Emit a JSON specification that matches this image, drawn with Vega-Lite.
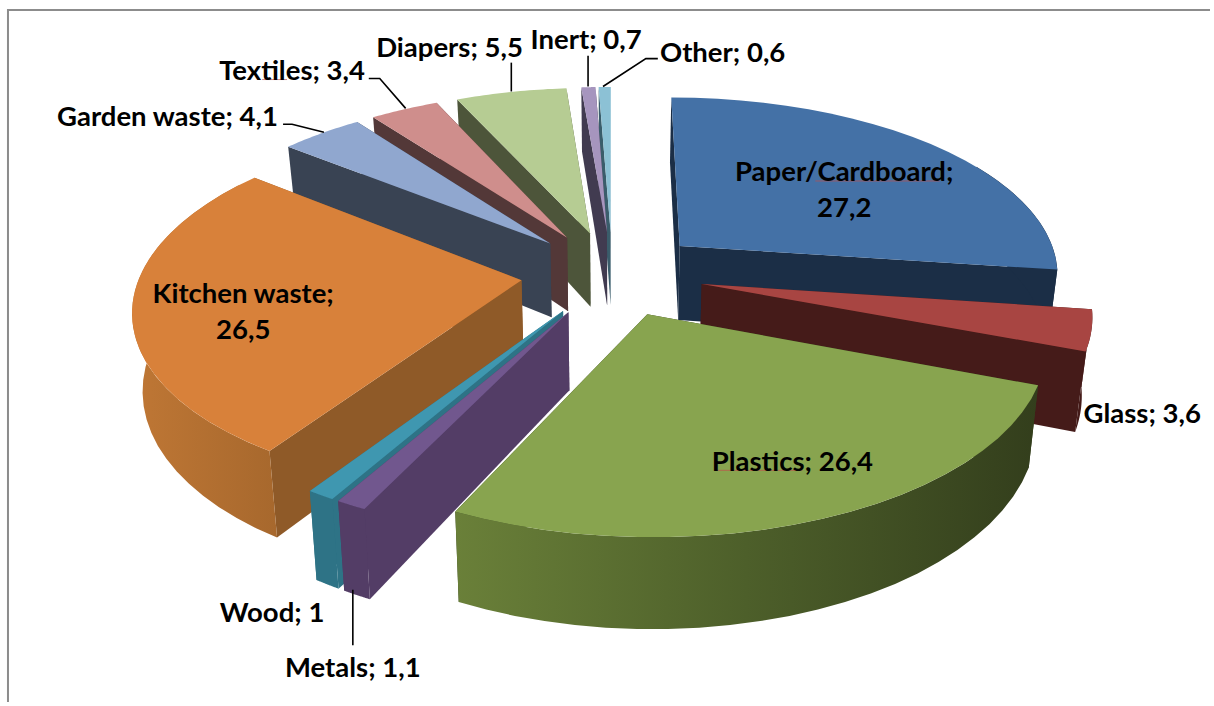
{
  "$schema": "https://vega.github.io/schema/vega-lite/v6.json",
  "width": 1214,
  "height": 706,
  "padding": 0,
  "autosize": {"type": "fit", "contains": "padding"},
  "background": "white",
  "view": {"stroke": null},
  "config": {"text": {"font": "Lato", "fontWeight": "bold", "fontSize": 27.5}},
  "params": [
    {"name": "centreX", "value": 614.3},
    {"name": "centreY", "value": 275},
    {"name": "radiusX", "value": 382.3},
    {"name": "radiusZ", "value": 178.5},
    {"name": "perspective", "value": 0.145},
    {"name": "explosion", "value": 0.24},
    {"name": "thickness", "value": 76},
    {"name": "taper", "value": 0.022},
    {"name": "steps", "value": 24}
  ],
  "datasets": {
    "slices": [
      {"slice": "Other", "value": 0.6, "clockwise": 11},
      {"slice": "Inert", "value": 0.7, "clockwise": 10},
      {"slice": "Diapers", "value": 5.5, "clockwise": 9},
      {"slice": "Textiles", "value": 3.4, "clockwise": 8},
      {"slice": "Garden waste", "value": 4.1, "clockwise": 7},
      {"slice": "Paper/Cardboard", "value": 27.2, "clockwise": 1},
      {"slice": "Kitchen waste", "value": 26.5, "clockwise": 6},
      {"slice": "Glass", "value": 3.6, "clockwise": 2},
      {"slice": "Wood", "value": 1, "clockwise": 5},
      {"slice": "Metals", "value": 1.1, "clockwise": 4},
      {"slice": "Plastics", "value": 26.4, "clockwise": 3}
    ],
    "labels": [
      {"slice": "Paper/Cardboard", "x": 847, "y": 174, "wrap": true},
      {"slice": "Kitchen waste", "x": 244, "y": 297, "wrap": true},
      {"slice": "Plastics", "x": 795, "y": 466, "wrap": false},
      {"slice": "Glass", "x": 1146, "y": 417, "wrap": false},
      {"slice": "Garden waste", "x": 168, "y": 119, "wrap": false},
      {"slice": "Textiles", "x": 293, "y": 72, "wrap": false},
      {"slice": "Diapers", "x": 451, "y": 49, "wrap": false},
      {"slice": "Inert", "x": 588, "y": 41, "wrap": false},
      {"slice": "Other", "x": 725, "y": 54, "wrap": false},
      {"slice": "Wood", "x": 273, "y": 617, "wrap": false},
      {"slice": "Metals", "x": 354, "y": 673, "wrap": false}
    ],
    "leaders": [
      {"slice": "Garden waste", "i": 0, "x": 284, "y": 125},
      {"slice": "Garden waste", "i": 1, "x": 293, "y": 125},
      {"slice": "Garden waste", "i": 2, "x": 325, "y": 133},
      {"slice": "Textiles", "i": 0, "x": 370, "y": 79},
      {"slice": "Textiles", "i": 1, "x": 381, "y": 79},
      {"slice": "Textiles", "i": 2, "x": 407, "y": 109},
      {"slice": "Diapers", "i": 0, "x": 513, "y": 63},
      {"slice": "Diapers", "i": 1, "x": 513, "y": 92},
      {"slice": "Inert", "i": 0, "x": 590, "y": 56},
      {"slice": "Inert", "i": 1, "x": 590, "y": 87},
      {"slice": "Other", "i": 0, "x": 660, "y": 59},
      {"slice": "Other", "i": 1, "x": 648, "y": 59},
      {"slice": "Other", "i": 2, "x": 605, "y": 87},
      {"slice": "Metals", "i": 0, "x": 354, "y": 593},
      {"slice": "Metals", "i": 1, "x": 354, "y": 649}
    ],
    "frame": [
      {"i": 0, "x": 8, "y": 706},
      {"i": 1, "x": 8, "y": 10},
      {"i": 2, "x": 1214, "y": 10}
    ],
    "underlines": [
      {"word": "Cardboard", "x": 818, "x2": 943, "y": 182},
      {"word": "Plastics", "x": 717, "x2": 805, "y": 473},
      {"word": "Textiles", "x": 263, "x2": 288, "y": 80}
    ]
  },
  "layer": [
    {
      "data": {"name": "frame"},
      "mark": {"type": "line", "stroke": "#8c8c8c", "strokeWidth": 2},
      "encoding": {
        "x": {"field": "x", "type": "quantitative", "scale": {"domain": [0, 1214]}, "axis": null},
        "y": {"field": "y", "type": "quantitative", "scale": {"domain": [706, 0]}, "axis": null},
        "order": {"field": "i"}
      }
    },
    {
      "data": {"name": "slices"},
      "transform": [
        {"joinaggregate": [{"op": "sum", "field": "value", "as": "total"}]},
        {"window": [{"op": "sum", "field": "value", "as": "upTo"}], "sort": [{"field": "clockwise"}]},
        {"calculate": "(datum.upTo - datum.value) / datum.total * 2 * PI", "as": "th0"},
        {"calculate": "datum.upTo / datum.total * 2 * PI", "as": "th1"},
        {"calculate": "(datum.th0 + datum.th1) / 2", "as": "thm"},
        {"calculate": "max(datum.th0, PI * 60 / 180)", "as": "a0"},
        {"calculate": "min(datum.th1, PI * 305 / 180)", "as": "a1"},
        {"calculate": "datum.th0 >= PI ? ['cut1', 'cut0', 'wall', 'top'] : ['cut0', 'cut1', 'wall', 'top']", "as": "face"},
        {"flatten": ["face"]},
        {"filter": "datum.face != 'wall' || datum.a1 > datum.a0"},
        {"calculate": "sequence(0, 2 * steps + 2)", "as": "v"},
        {"flatten": ["v"]},
        {"filter": "datum.face == 'top' ? datum.v <= steps + 1 : datum.face == 'wall' ? datum.v <= 2 * steps + 1 : datum.v < 4"},
        {"calculate": "datum.face == 'top' ? (datum.v == 0 ? 0 : 1) : datum.face == 'wall' ? 1 : (datum.v == 1 || datum.v == 2 ? 1 : 0)", "as": "r"},
        {"calculate": "datum.face == 'top' ? 0 : datum.face == 'wall' ? (datum.v > steps ? 1 : 0) : (datum.v >= 2 ? 1 : 0)", "as": "h"},
        {"calculate": "datum.face == 'top' ? datum.th0 + (datum.th1 - datum.th0) * (datum.v - 1) / steps : datum.face == 'wall' ? datum.a0 + (datum.a1 - datum.a0) * (datum.v <= steps ? datum.v : 2 * steps + 1 - datum.v) / steps : datum.face == 'cut0' ? datum.th0 : datum.th1", "as": "theta"},
        {"calculate": "explosion * sin(datum.thm) + datum.r * sin(datum.theta)", "as": "wx"},
        {"calculate": "explosion * cos(datum.thm) + datum.r * cos(datum.theta)", "as": "wz"},
        {"calculate": "1 / (1 + perspective * datum.wz)", "as": "s"},
        {"calculate": "centreX + radiusX * datum.wx * datum.s * (1 - taper * datum.h)", "as": "px"},
        {"calculate": "centreY + (thickness * datum.h - radiusZ * datum.wz) * datum.s", "as": "py"},
        {"calculate": "datum.slice + '|' + (datum.face == 'top' || datum.face == 'wall' ? datum.face : 'cut')", "as": "surface"},
        {"calculate": "datum.surface == 'Kitchen waste|wall' ? 2 : datum.surface == 'Plastics|wall' ? 4 : datum.surface == 'Plastics|top' ? 5 : (datum.slice == 'Glass' || datum.slice == 'Wood' || datum.slice == 'Metals' || datum.slice == 'Plastics' || datum.surface == 'Kitchen waste|top') ? 3 : 1", "as": "stage"}
      ],
      "encoding": {
        "x": {"field": "px", "type": "quantitative", "scale": {"domain": [0, 1214]}, "axis": null},
        "y": {"field": "py", "type": "quantitative", "scale": {"domain": [706, 0]}, "axis": null},
        "order": {"field": "v"},
        "detail": {"field": "face"}
      },
      "layer": [
        {
          "transform": [{"filter": "datum.stage == 1"}],
          "mark": {"type": "line", "strokeWidth": 0},
          "encoding": {"fill": {"field": "surface", "type": "nominal", "legend": null, "scale": {"name": "surfaceColours", "domain": ["Paper/Cardboard|top", "Paper/Cardboard|wall", "Paper/Cardboard|cut", "Glass|top", "Glass|wall", "Glass|cut", "Plastics|top", "Plastics|cut", "Metals|top", "Metals|wall", "Metals|cut", "Wood|top", "Wood|wall", "Wood|cut", "Kitchen waste|top", "Kitchen waste|cut", "Garden waste|top", "Garden waste|cut", "Textiles|top", "Textiles|cut", "Diapers|top", "Diapers|cut", "Inert|top", "Inert|cut", "Other|top", "Other|cut"], "range": ["#4471a6", "#1b2e46", "#1b2e46", "#a84542", "#451b19", "#451b19", "#88a44f", "#333e1c", "#71578e", "#533d66", "#533d66", "#3f97b0", "#2e7386", "#2e7386", "#d8813a", "#8f5a28", "#90a7cf", "#394353", "#cf8e8c", "#533838", "#b6cc93", "#4d553a", "#a695be", "#413b50", "#8cc1d5", "#3a5d6b"]}}}
        },
        {
          "transform": [{"filter": "datum.stage == 2"}],
          "mark": {"type": "line", "strokeWidth": 0, "fill": {"gradient": "linear", "x1": 0, "y1": 0, "x2": 1, "y2": 0, "stops": [{"offset": 0, "color": "#bf7735"}, {"offset": 1, "color": "#a7682d"}]}}
        },
        {
          "transform": [{"filter": "datum.stage == 3"}],
          "mark": {"type": "line", "strokeWidth": 0},
          "encoding": {"fill": {"field": "surface", "type": "nominal", "legend": null}}
        },
        {
          "transform": [{"filter": "datum.stage == 4"}],
          "mark": {"type": "line", "strokeWidth": 0, "fill": {"gradient": "linear", "x1": 0, "y1": 0, "x2": 1, "y2": 0, "stops": [{"offset": 0, "color": "#6a8039"}, {"offset": 0.5, "color": "#4d5f2a"}, {"offset": 1, "color": "#333e1c"}]}}
        },
        {
          "transform": [{"filter": "datum.stage == 5"}],
          "mark": {"type": "line", "strokeWidth": 0},
          "encoding": {"fill": {"field": "surface", "type": "nominal", "legend": null}}
        }
      ]
    },
    {
      "data": {"name": "leaders"},
      "mark": {"type": "line", "stroke": "black", "strokeWidth": 1.6},
      "encoding": {
        "x": {"field": "x", "type": "quantitative", "scale": {"domain": [0, 1214]}, "axis": null},
        "y": {"field": "y", "type": "quantitative", "scale": {"domain": [706, 0]}, "axis": null},
        "detail": {"field": "slice"},
        "order": {"field": "i"}
      }
    },
    {
      "data": {"name": "underlines"},
      "mark": {"type": "rule", "stroke": "#c0504d", "strokeWidth": 1, "opacity": 0.7},
      "encoding": {
        "x": {"field": "x", "type": "quantitative", "scale": {"domain": [0, 1214]}, "axis": null},
        "x2": {"field": "x2"},
        "y": {"field": "y", "type": "quantitative", "scale": {"domain": [706, 0]}, "axis": null}
      }
    },
    {
      "data": {"name": "labels"},
      "transform": [
        {"lookup": "slice", "from": {"data": {"name": "slices"}, "key": "slice", "fields": ["value"]}},
        {"calculate": "datum.slice + ';' + (datum.wrap ? '\\n' : ' ') + replace(toString(datum.value), '.', ',')", "as": "caption"}
      ],
      "mark": {"type": "text", "align": "center", "baseline": "middle", "lineBreak": "\n", "lineHeight": 36, "color": "black"},
      "encoding": {
        "x": {"field": "x", "type": "quantitative", "scale": {"domain": [0, 1214]}, "axis": null},
        "y": {"field": "y", "type": "quantitative", "scale": {"domain": [706, 0]}, "axis": null},
        "text": {"field": "caption"}
      }
    }
  ]
}
